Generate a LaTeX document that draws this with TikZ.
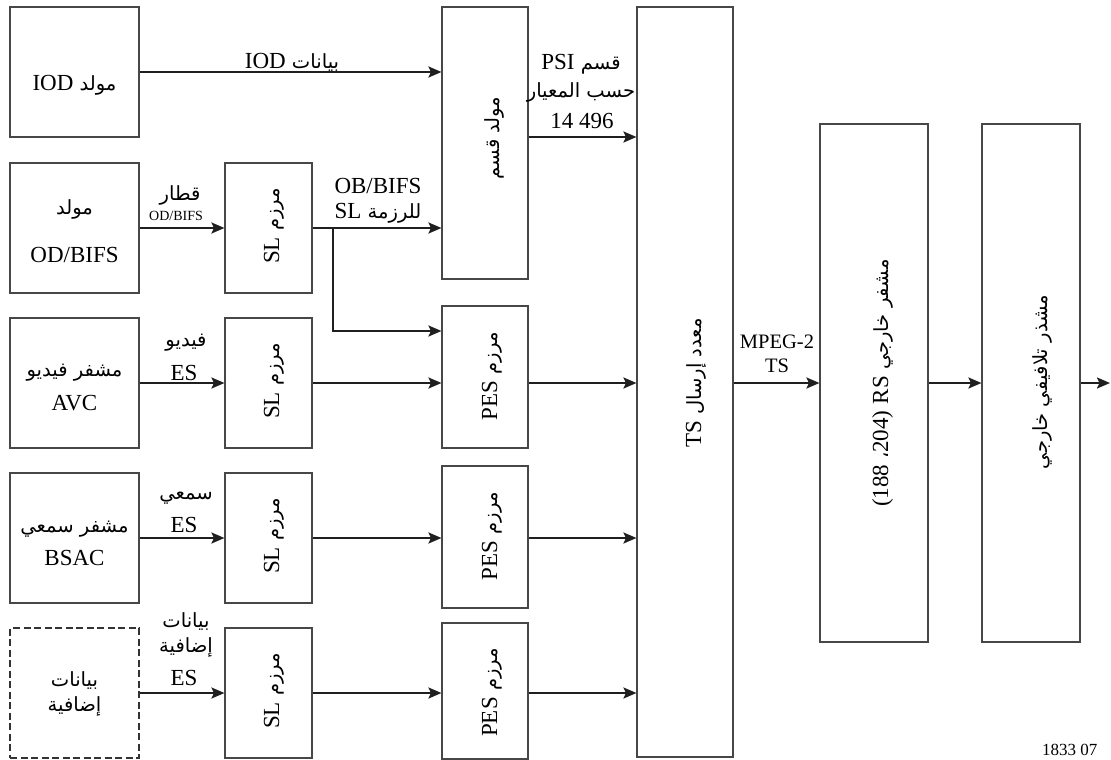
\documentclass[tikz,border=0pt]{standalone}
\usepackage{fontspec}
\setmainfont{Liberation Serif}
\newfontfamily\arfont[Script=Arabic,Scale=0.85]{DejaVu Sans}
\TeXXeTstate=1
\usetikzlibrary{arrows.meta,calc}
\newcommand\AR[1]{{\arfont\beginR #1\endR}}
\newcommand\LT[1]{{\rmfamily #1}}
\begin{document}
\begin{tikzpicture}[x=1pt,y=-1pt,
  blk/.style={draw=black!72, line width=1.1pt, inner sep=0pt},
  dblk/.style={draw=black!80, line width=1.6pt, dash pattern=on 7pt off 3.5pt, inner sep=0pt},
  conn/.style={draw=black!88, line width=2.1pt, -{Stealth[length=13pt,width=11pt,inset=2.5pt]}},
  lbl/.style={inner sep=0pt, anchor=base, font=\fontsize{23}{27}\selectfont},
  slbl/.style={inner sep=0pt, anchor=base, font=\fontsize{14}{16}\selectfont},
  mlbl/.style={inner sep=0pt, anchor=base, font=\fontsize{20.5}{24}\selectfont},
  rot/.style={lbl, rotate=90}]
\useasboundingbox (0,0) rectangle (1111,760);
% boxes
\node[blk, minimum width=129pt, minimum height=130pt] (iod) at (74.5,72) {};
\node[blk, minimum width=129pt, minimum height=130pt] (odg) at (74.5,228) {};
\node[blk, minimum width=129pt, minimum height=130pt] (avc) at (74.5,383) {};
\node[blk, minimum width=129pt, minimum height=130pt] (bsac) at (74.5,538) {};
\node[dblk, minimum width=129pt, minimum height=130pt] (extra) at (74.5,693) {};
\node[blk, minimum width=87pt, minimum height=130pt] (sl1) at (268.5,228) {};
\node[blk, minimum width=87pt, minimum height=130pt] (sl2) at (268.5,383) {};
\node[blk, minimum width=87pt, minimum height=130pt] (sl3) at (268.5,538) {};
\node[blk, minimum width=87pt, minimum height=130pt] (sl4) at (268.5,693) {};
\node[blk, minimum width=86pt, minimum height=272pt] (sec) at (485,143) {};
\node[blk, minimum width=86pt, minimum height=142pt] (pes1) at (485,377) {};
\node[blk, minimum width=86pt, minimum height=142pt] (pes2) at (485,537) {};
\node[blk, minimum width=86pt, minimum height=136pt] (pes3) at (485,691) {};
\node[blk, minimum width=96pt, minimum height=750pt] (ts) at (685,382) {};
\node[blk, minimum width=108pt, minimum height=518pt] (rs) at (874,383) {};
\node[blk, minimum width=98pt, minimum height=518pt] (conv) at (1031,383) {};
\coordinate (br) at (333,228);
\coordinate (out) at (1110,383);
% connectors
\draw[conn] (iod.east) -- (iod.east -| sec.west);
\draw[conn] (odg.east) -- (sl1.west);
\draw[conn] (sl1.east) -- (sl1.east -| sec.west);
\draw[conn] (br) |- ([yshift=46pt]pes1.west);
\draw[conn] (avc.east) -- (sl2.west);
\draw[conn] (sl2.east) -- (sl2.east -| pes1.west);
\draw[conn] (avc.east -| pes1.east) -- (avc.east -| ts.west);
\draw[conn] (bsac.east) -- (sl3.west);
\draw[conn] (sl3.east) -- (sl3.east -| pes2.west);
\draw[conn] (bsac.east -| pes2.east) -- (bsac.east -| ts.west);
\draw[conn] (extra.east) -- (sl4.west);
\draw[conn] (sl4.east) -- (sl4.east -| pes3.west);
\draw[conn] (extra.east -| pes3.east) -- (extra.east -| ts.west);
\draw[conn] ([yshift=6pt]sec.east) -- ([yshift=6pt]sec.east -| ts.west);
\draw[conn] (rs.west -| ts.east) -- (rs.west);
\draw[conn] (rs.east) -- (conv.west);
\draw[conn] (conv.east) -- (out);
% box texts
\node[lbl] (t-iod) at (74.5,91) {\AR{مولد \LT{IOD}}};
\node[lbl] (t-odg1) at (74.5,214) {\AR{مولد}};
\node[lbl] (t-odg2) at (74.5,262) {OD/BIFS};
\node[lbl] (t-avc1) at (74.5,376) {\AR{مشفر فيديو}};
\node[lbl] (t-avc2) at (74.5,410) {AVC};
\node[lbl] (t-bsac1) at (74.5,532) {\AR{مشفر سمعي}};
\node[lbl] (t-bsac2) at (74.5,565) {BSAC};
\node[lbl] (t-ex1) at (74.5,686) {\AR{بيانات}};
\node[lbl] (t-ex2) at (74.5,711) {\AR{إضافية}};
\node[rot] (t-sl1) at (279,226) {\AR{مرزم \LT{SL}}};
\node[rot] (t-sl2) at (279,381) {\AR{مرزم \LT{SL}}};
\node[rot] (t-sl3) at (279,536) {\AR{مرزم \LT{SL}}};
\node[rot] (t-sl4) at (279,691) {\AR{مرزم \LT{SL}}};
\node[rot] (t-sec) at (499,138) {\AR{مولد قسم}};
\node[rot] (t-pes1) at (497,376) {\AR{مرزم \LT{PES}}};
\node[rot] (t-pes2) at (497,536) {\AR{مرزم \LT{PES}}};
\node[rot] (t-pes3) at (497,692.5) {\AR{مرزم \LT{PES}}};
\node[rot] (t-ts) at (701,383) {\AR{معدد إرسال \LT{TS}}};
\node[rot] (t-rs) at (888,383) {\AR{مشفر خارجي \LT{RS} \beginL\LT{(188 }{\arfont ،}\LT{204)}\endL}};
\node[rot] (t-conv) at (1047,382) {\AR{مشذر تلافيفي خارجي}};
% connector labels
\node[lbl] (l-iod) at (292,68) {\AR{بيانات \LT{IOD}}};
\node[lbl] (l-od1) at (180,200) {\AR{قطار}};
\node[slbl] (l-od2) at (176,220) {OD/BIFS};
\node[lbl] (l-ob1) at (378,193) {OB/BIFS};
\node[lbl] (l-ob2) at (378,218) {\AR{للرزمة \LT{SL}}};
\node[lbl] (l-psi1) at (581,70) {\AR{قسم \LT{PSI}}};
\node[lbl] (l-psi2) at (581,97) {\AR{حسب المعيار}};
\node[lbl] (l-psi3) at (582,128) {14 496};
\node[lbl] (l-v1) at (186,346) {\AR{فيديو}};
\node[lbl] (l-v2) at (184,380) {ES};
\node[lbl] (l-a1) at (186,499) {\AR{سمعي}};
\node[lbl] (l-a2) at (184,532) {ES};
\node[lbl] (l-e1) at (186,627) {\AR{بيانات}};
\node[lbl] (l-e2) at (186,652) {\AR{إضافية}};
\node[lbl] (l-e3) at (184,685) {ES};
\node[mlbl] (l-m1) at (777,348) {MPEG-2};
\node[mlbl] (l-m2) at (777,372) {TS};
\node[inner sep=0pt, anchor=north west, font=\fontsize{17}{19}\selectfont] (fig) at (1042,744) {1833 07};
\end{tikzpicture}
\end{document}
